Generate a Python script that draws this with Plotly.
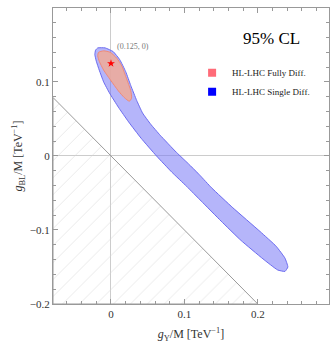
import plotly.graph_objects as go

# 95% CL regions, boundary points (TeV^-1)
single_x = [-0.018, -0.008, 0.003, 0.012, 0.020, 0.027, 0.035, 0.043, 0.054, 0.067,
            0.089, 0.107, 0.121, 0.137, 0.166, 0.203, 0.225, 0.237, 0.241, 0.237,
            0.227, 0.207, 0.177, 0.150, 0.123, 0.103, 0.083, 0.062, 0.041, 0.024,
            0.010, -0.002, -0.010, -0.016, -0.020, -0.022, -0.021, -0.018]
single_y = [0.146, 0.146, 0.141, 0.130, 0.114, 0.095, 0.075, 0.058, 0.043, 0.028,
            0.005, -0.012, -0.026, -0.043, -0.070, -0.102, -0.122, -0.138, -0.150, -0.156,
            -0.154, -0.139, -0.114, -0.088, -0.061, -0.041, -0.022, 0.000, 0.024, 0.046,
            0.066, 0.085, 0.100, 0.116, 0.128, 0.137, 0.143, 0.146]

fully_x = [-0.017, -0.010, -0.001, 0.008, 0.015, 0.021, 0.027, 0.028, 0.025, 0.018,
           0.010, -0.001, -0.010, -0.016, -0.018, -0.017]
fully_y = [0.140, 0.142, 0.140, 0.132, 0.121, 0.105, 0.088, 0.078, 0.074, 0.079,
           0.088, 0.103, 0.116, 0.128, 0.135, 0.140]

# excluded triangle (below gY + gBL = 0)
excl_x = [-0.079, -0.079, 0.2, -0.079]
excl_y = [-0.2, 0.079, -0.2, -0.2]

sm_x = [0.0]
sm_y = [0.125]

fnt = "Liberation Serif"

fig = go.Figure()

fig.add_trace(go.Scatter(x=excl_x, y=excl_y, mode="lines", fill="toself",
                         fillcolor="rgba(255,255,255,0)",
                         fillpattern=dict(shape="/", fgcolor="#d4d4d4", bgcolor="rgba(255,255,255,0)",
                                          size=12, solidity=0.08),
                         line=dict(color="#9a9a9a", width=1), showlegend=False, hoverinfo="skip"))

fig.add_trace(go.Scatter(x=single_x, y=single_y, mode="lines", fill="toself",
                         fillcolor="rgba(120,120,245,0.55)", line=dict(color="#6b6bf0", width=1),
                         line_shape="spline", line_smoothing=0.4, showlegend=False))
fig.add_trace(go.Scatter(x=fully_x, y=fully_y, mode="lines", fill="toself",
                         fillcolor="rgba(240,170,150,0.85)", line=dict(color="#f08a78", width=1),
                         line_shape="spline", line_smoothing=0.6, showlegend=False))

fig.add_trace(go.Scatter(x=sm_x, y=sm_y, mode="markers",
                         marker=dict(symbol="star", color="red", size=6, line=dict(width=0)),
                         showlegend=False))

# legend entries
fig.add_trace(go.Scatter(x=[None], y=[None], mode="markers", name="HL-LHC Fully Diff.",
                         marker=dict(symbol="square", color="#ff6b78", size=8)))
fig.add_trace(go.Scatter(x=[None], y=[None], mode="markers", name="HL-LHC Single Diff.",
                         marker=dict(symbol="square", color="#0000ff", size=8)))

fig.add_annotation(x=0.006, y=0.148, text="(0.125, 0)", showarrow=False, xanchor="left",
                   font=dict(family=fnt, size=8, color="#777"))
fig.add_annotation(x=0.219, y=0.159, text="95% CL", showarrow=False,
                   font=dict(family=fnt, size=17, color="black"))

axis_common = dict(showgrid=False, zeroline=True, zerolinecolor="#cccccc", zerolinewidth=1,
                   showline=True, linecolor="#999999", linewidth=1, mirror="ticks",
                   ticks="inside", ticklen=5, tickcolor="#999999", dtick=0.1, tick0=0,
                   automargin=False,
                   minor=dict(dtick=0.02, ticks="inside", ticklen=3, tickcolor="#999999"),
                   tickfont=dict(family=fnt, size=11, color="#333"))

fig.update_xaxes(range=[-0.079, 0.297], title=dict(text="<i>g</i><sub>Y</sub>/M [TeV<sup>−1</sup>]",
                 font=dict(family=fnt, size=12, color="#333"), standoff=10), **axis_common)
fig.update_yaxes(range=[-0.2, 0.1999], title=dict(text="<i>g</i><sub>BL</sub>/M [TeV<sup>−1</sup>]",
                 font=dict(family=fnt, size=12, color="#333"), standoff=4), **axis_common)

fig.update_layout(width=332, height=346, margin=dict(l=53, r=3, t=8, b=42),
                  plot_bgcolor="white", paper_bgcolor="white",
                  legend=dict(x=0.504, y=0.83, xanchor="left", yanchor="top",
                              bgcolor="rgba(0,0,0,0)", font=dict(family=fnt, size=9, color="#222"),
                              itemwidth=30, tracegroupgap=0))

fig.write_html("out.html", config={"displayModeBar": False},
               post_script="document.body.style.margin='0';")
